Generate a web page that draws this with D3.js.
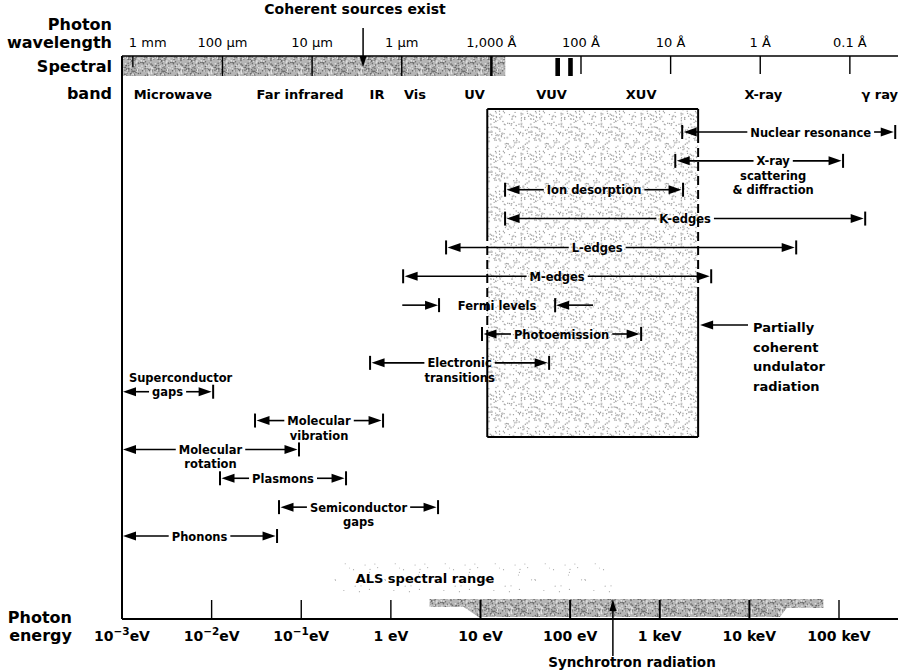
<!DOCTYPE html>
<html><head><meta charset="utf-8">
<script src="https://cdn.jsdelivr.net/npm/d3@7"></script>
<style>
body{margin:0;background:#fff}
svg text{font-family:"DejaVu Sans",sans-serif;fill:#000}
</style>
</head><body>
<svg id="c" width="898" height="670"></svg>
<script>
// ---------------- data ----------------
const energyTicks = [1e-3, 1e-2, 1e-1, 1, 10, 100, 1000, 1e4, 1e5];
const energyTickMain = ["10", "10", "10", "1 eV", "10 eV", "100 eV", "1 keV", "10 keV", "100 keV"];
const energyTickExp = ["\u22123", "\u22122", "\u22121", "", "", "", "", "", ""];

const wavelengthTicksA = [1e7, 1e6, 1e5, 1e4, 1e3, 100, 10, 1, 0.1];
const wavelengthLabels = ["1 mm", "100 \u00b5m", "10 \u00b5m", "1 \u00b5m", "1,000 \u00c5", "100 \u00c5", "10 \u00c5", "1 \u00c5", "0.1 \u00c5"];

const bandNames = ["Microwave", "Far infrared", "IR", "Vis", "UV", "VUV", "XUV", "X-ray", "\u03b3 ray"];
const bandCenterEV = [0.0037, 0.097, 0.70, 1.86, 8.6, 62, 620, 14300, 285000];

const coherentBandA = [1e7, 700];        // coherent sources exist (wavelength, Å)
const coherentLinesA = [182, 131];       // VUV coherent sources (Å)
const coherentArrowA = 2.7e4;

const processNames = ["Nuclear resonance", "X-ray scattering & diffraction", "Ion desorption", "K-edges", "L-edges", "M-edges", "Fermi levels", "Photoemission", "Electronic transitions", "Superconductor gaps", "Molecular vibration", "Molecular rotation", "Plasmons", "Semiconductor gaps", "Phonons"];
const processLowEV  = [1780, 1490, 18.8, 18.8, 4.13, 1.37, 3.36, 10.4, 0.586, 0.001, 0.0305, 0.001, 0.0124, 0.0565, 0.001];
const processHighEV = [424000, 111000, 1820, 196000, 33300, 3750, 69.8, 620, 58.3, 0.0104, 0.818, 0.0944, 0.316, 3.36, 0.0537];
const processLabelLines = [["Nuclear resonance"], ["X-ray", "scattering", "& diffraction"], ["Ion desorption"], ["K-edges"], ["L-edges"], ["M-edges"], ["Fermi levels"], ["Photoemission"], ["Electronic", "transitions"], ["Superconductor", "gaps"], ["Molecular", "vibration"], ["Molecular", "rotation"], ["Plasmons"], ["Semiconductor", "gaps"], ["Phonons"]];
const fermiOuterEV = [1.34, 180];

const undulatorEV = [11.9, 2680];
const synchrotronEV = [2.7, 6.5, 9.5, 22000, 26000, 67000];
const synchrotronDepth = [0.45, 0.45, 1, 1, 0.5, 0.5];
const synchrotronArrowEV = 300;
const alsRangeEV = [1.1, 300];

// ---------------- layout ----------------
const svg = d3.select("#c");
const x = d3.scaleLog().domain([1e-3, 1e5]).range([122, 839]);
const xw = a => x(12398.4 / a) + 2.5;
const rowY = d3.scalePoint().domain(d3.range(processNames.length)).range([132, 536]);
const depthY = d3.scaleLinear().domain([0, 1]).range([599, 617]);
const topY = 56, barBottom = 76, axisY = 619, rightEdge = 898;
const onLineIdx = processNames.map((d, i) => d === "Superconductor gaps" ? 1 : 0);
const labelShift = {0: 22, 1: 14, 4: -24};
const lineShift = {"Superconductor": 13};

// stipple patterns (texture only)
const defs = svg.append("defs");
function stipple(id, size, bg, layers) {
  const p = defs.append("pattern").attr("id", id).attr("patternUnits", "userSpaceOnUse")
    .attr("width", size).attr("height", size);
  p.append("rect").attr("width", size).attr("height", size).attr("fill", bg);
  let s = 17;
  const nx = () => { s = (s * 9301 + 49297) % 233280; return s / 233280; };
  layers.forEach(([n, col, r]) => {
    for (let i = 0; i < n; i++) {
      p.append("circle").attr("cx", nx() * size).attr("cy", nx() * size).attr("r", r).attr("fill", col);
    }
  });
}
stipple("dense", 30, "#b5b5b5", [[150, "#666666", 0.75], [90, "#e2e2e2", 0.8]]);
stipple("light", 40, "#ffffff", [[110, "#9c9c9c", 0.7], [25, "#c8c8c8", 1.1]]);
stipple("sparse", 50, "#ffffff", [[30, "#aaaaaa", 0.6]]);

// ---------------- headings ----------------
const head = svg.append("g").attr("font-weight", "bold").attr("font-size", 16).attr("text-anchor", "end");
[["Photon", 112, 30], ["wavelength", 112, 48], ["Spectral", 112, 72], ["band", 112, 99], ["Photon", 72, 623], ["energy", 72, 641]]
  .forEach(([t, tx, ty]) => head.append("text").attr("x", tx).attr("y", ty).text(t));

// ---------------- top coherent bar ----------------
svg.append("rect").attr("x", x(1e-3)).attr("y", topY).attr("width", xw(coherentBandA[1]) - x(1e-3))
  .attr("height", barBottom - topY).attr("fill", "url(#dense)");
svg.append("line").attr("x1", x(1e-3)).attr("x2", rightEdge).attr("y1", topY).attr("y2", topY)
  .attr("stroke", "#000").attr("stroke-width", 1.6);
wavelengthTicksA.forEach((a, i) => {
  const tx = xw(a);
  const inBar = a > coherentBandA[1];
  svg.append("line").attr("x1", tx).attr("x2", tx)
    .attr("y1", topY).attr("y2", i === 0 ? topY + 11 : (inBar ? barBottom : barBottom - 2))
    .attr("stroke", "#000").attr("stroke-width", i === 4 ? 2.5 : 1.4);
  svg.append("text").attr("x", i === 0 ? tx - 4 : tx).attr("y", 47)
    .attr("text-anchor", i === 0 ? "start" : "middle").attr("font-size", 13).text(wavelengthLabels[i]);
});
coherentLinesA.forEach(a => {
  svg.append("rect").attr("x", xw(a) - 2.3).attr("y", topY + 2).attr("width", 4.6).attr("height", barBottom - topY - 2).attr("fill", "#000");
});
// Coherent sources exist
svg.append("text").attr("x", 355).attr("y", 14).attr("text-anchor", "middle")
  .attr("font-weight", "bold").attr("font-size", 14).text("Coherent sources exist");
const ca = xw(coherentArrowA);
svg.append("line").attr("x1", ca).attr("x2", ca).attr("y1", 28).attr("y2", 58).attr("stroke", "#000").attr("stroke-width", 1.5);
svg.append("path").attr("d", `M${ca},67 L${ca - 3.5},56 L${ca + 3.5},56 Z`).attr("fill", "#000");

// spectral bands
bandNames.forEach((b, i) => {
  svg.append("text").attr("x", x(bandCenterEV[i])).attr("y", 99).attr("text-anchor", "middle")
    .attr("font-weight", "bold").attr("font-size", 13).text(b);
});

// ---------------- undulator box ----------------
const bx1 = x(undulatorEV[0]), bx2 = x(undulatorEV[1]), by1 = 109, by2 = 437;
svg.append("rect").attr("x", bx1).attr("y", by1).attr("width", bx2 - bx1).attr("height", by2 - by1).attr("fill", "url(#light)");
const boxLine = (x1, y1, x2, y2, dash) => svg.append("line").attr("x1", x1).attr("y1", y1).attr("x2", x2).attr("y2", y2)
  .attr("stroke", "#000").attr("stroke-width", 2).attr("stroke-dasharray", dash || null);
boxLine(bx1, by1, bx2, by1);
boxLine(bx1, by2, bx2, by2);
boxLine(bx1, by1, bx1, 232);
boxLine(bx1, 232, bx1, 333, "9,5");
boxLine(bx1, 333, bx1, by2);
boxLine(bx2, by1, bx2, 134);
boxLine(bx2, 134, bx2, 287, "9,5");
boxLine(bx2, 287, bx2, by2);

// ---------------- process ranges ----------------
const pg = svg.append("g");
function arrowHead(tipX, y, dir) { // dir -1 = pointing left, +1 = pointing right
  pg.append("path").attr("d", `M${tipX},${y} L${tipX - dir * 13},${y - 4.5} L${tipX - dir * 13},${y + 4.5} Z`).attr("fill", "#000");
}
function tick(tx, y) {
  pg.append("line").attr("x1", tx).attr("x2", tx).attr("y1", y - 7).attr("y2", y + 7).attr("stroke", "#000").attr("stroke-width", 2);
}
function seg(a, b, y) {
  if (b - a > 0.5) pg.append("line").attr("x1", a).attr("x2", b).attr("y1", y).attr("y2", y).attr("stroke", "#000").attr("stroke-width", 1.6);
}
processNames.forEach((name, i) => {
  const y = rowY(i), x1 = x(processLowEV[i]), x2 = x(processHighEV[i]);
  const lines = processLabelLines[i], on = onLineIdx[i];
  const cx = (x1 + x2) / 2 + (labelShift[i] || 0);
  let w = 0;
  lines.forEach((t, k) => {
    const tt = pg.append("text").attr("x", cx + (lineShift[t] || 0)).attr("y", y + 4.5 + (k - on) * 14.5).attr("text-anchor", "middle")
      .attr("font-weight", "bold").attr("font-size", 11.5).text(t);
    if (k === on) w = tt.node().getComputedTextLength();
  });
  if (name === "Fermi levels") {
    const o1 = x(fermiOuterEV[0]), o2 = x(fermiOuterEV[1]);
    seg(o1, x1 - 10, y); arrowHead(x1, y, 1); tick(x1 + 1, y);
    seg(x2 + 10, o2, y); arrowHead(x2, y, -1); tick(x2 - 1, y);
    return;
  }
  const leftAtAxis = processLowEV[i] <= 1e-3;
  seg(x1 + 8, cx - w / 2 - 3, y);
  seg(cx + w / 2 + 3, x2 - 8, y);
  arrowHead(leftAtAxis ? x1 + 1 : x1 + 1.5, y, -1);
  if (!leftAtAxis) tick(x1, y);
  arrowHead(x2 - 1.5, y, 1);
  tick(x2, y);
});

// partially coherent undulator radiation
const pcY = 325;
pg.append("line").attr("x1", bx2 + 10).attr("x2", 748).attr("y1", pcY).attr("y2", pcY).attr("stroke", "#000").attr("stroke-width", 1.6);
arrowHead(bx2 + 2, pcY, -1);
["Partially", "coherent", "undulator", "radiation"].forEach((t, k) => {
  svg.append("text").attr("x", 753).attr("y", 332 + k * 19.5).attr("font-weight", "bold").attr("font-size", 13).text(t);
});

// ---------------- bottom: synchrotron / ALS ----------------
svg.append("rect").attr("x", x(alsRangeEV[0]) - 60).attr("y", 563).attr("width", x(alsRangeEV[1]) - x(alsRangeEV[0]) + 60)
  .attr("height", 30).attr("fill", "url(#sparse)");
svg.append("text").attr("x", 425).attr("y", 583).attr("text-anchor", "middle").attr("font-weight", "bold").attr("font-size", 13)
  .text("ALS spectral range");

const synArea = d3.area().x(d => x(d[0])).y0(depthY(0)).y1(d => depthY(d[1]));
svg.append("path").datum(synchrotronEV.map((e, i) => [e, synchrotronDepth[i]])).attr("d", synArea).attr("fill", "url(#dense)");

// left vertical axis & bottom axis
svg.append("line").attr("x1", x(1e-3)).attr("x2", x(1e-3)).attr("y1", topY).attr("y2", axisY).attr("stroke", "#000").attr("stroke-width", 2);
svg.append("line").attr("x1", x(1e-3)).attr("x2", rightEdge).attr("y1", axisY).attr("y2", axisY).attr("stroke", "#000").attr("stroke-width", 2);
energyTicks.forEach((e, i) => {
  const tx = x(e);
  if (i > 0) svg.append("line").attr("x1", tx).attr("x2", tx).attr("y1", 600).attr("y2", axisY)
    .attr("stroke", "#000").attr("stroke-width", (e >= 10 && e <= 1e4) ? 2 : 1.4);
  const t = svg.append("text").attr("x", tx).attr("y", 641).attr("text-anchor", "middle").attr("font-weight", "bold").attr("font-size", 14);
  if (energyTickExp[i]) {
    t.append("tspan").text(energyTickMain[i]);
    t.append("tspan").attr("dy", -6).attr("font-size", 10.5).text(energyTickExp[i]);
    t.append("tspan").attr("dy", 6).text("eV");
  } else t.text(energyTickMain[i]);
});
const sa = x(synchrotronArrowEV);
svg.append("line").attr("x1", sa).attr("x2", sa).attr("y1", 656).attr("y2", 610).attr("stroke", "#000").attr("stroke-width", 1.5);
svg.append("path").attr("d", `M${sa},599 L${sa - 3.5},611 L${sa + 3.5},611 Z`).attr("fill", "#000");
svg.append("text").attr("x", 632).attr("y", 667).attr("text-anchor", "middle").attr("font-weight", "bold").attr("font-size", 13.5)
  .text("Synchrotron radiation");
</script>
</body></html>
